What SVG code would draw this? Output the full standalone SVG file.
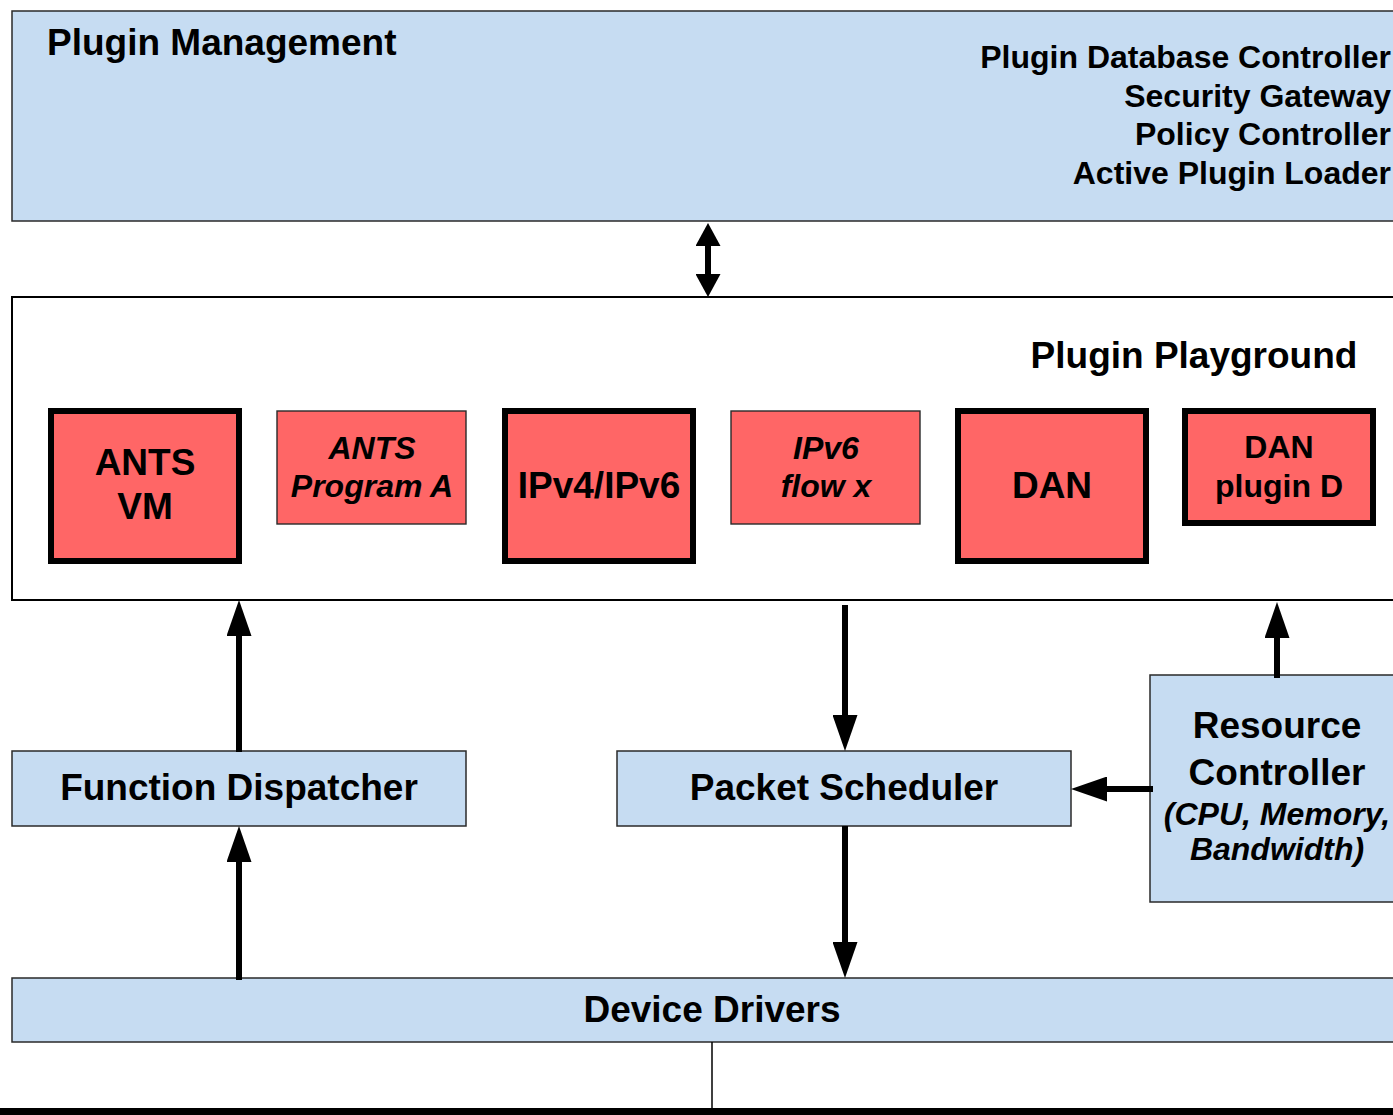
<svg xmlns="http://www.w3.org/2000/svg" width="1393" height="1115" viewBox="0 0 1393 1115">
  <style>
    text { font-family: "Liberation Sans", Arial, sans-serif; font-weight: bold; fill: #000; }
    .big { font-size: 37px; }
    .mid { font-size: 32px; }
    .it { font-style: italic; }
    .c { text-anchor: middle; }
    .r { text-anchor: end; }
    .blue { fill: #C6DCF2; stroke: #2a2a2a; stroke-width: 1.5; }
    .red { fill: #FF6666; stroke: #2a2a2a; stroke-width: 1.4; }
    .redThick { fill: #FF6666; stroke: #000; stroke-width: 6; }
    .shaft { stroke: #000; stroke-width: 6; fill: none; }
  </style>
  <defs>
    <marker id="head" viewBox="0 0 36 25" markerWidth="36" markerHeight="25" refX="6" refY="12.5" orient="auto" markerUnits="userSpaceOnUse">
      <path d="M0,0 L36,12.5 L0,25 Z" fill="#000"/>
    </marker>
    <marker id="headShort" viewBox="0 0 23 25" markerWidth="23" markerHeight="25" refX="6" refY="12.5" orient="auto-start-reverse" markerUnits="userSpaceOnUse">
      <path d="M0,0 L23,12.5 L0,25 Z" fill="#000"/>
    </marker>
  </defs>

  <rect x="0" y="0" width="1393" height="1115" fill="#fff"/>

  <g id="plugin-management">
    <rect class="blue" x="12" y="11" width="1400" height="210"/>
    <text class="big" x="47" y="55">Plugin Management</text>
    <text class="mid r" x="1391" y="68">Plugin Database Controller</text>
    <text class="mid r" x="1391" y="107">Security Gateway</text>
    <text class="mid r" x="1391" y="145">Policy Controller</text>
    <text class="mid r" x="1391" y="184">Active Plugin Loader</text>
  </g>

  <g id="plugin-playground">
    <rect x="12" y="297" width="1400" height="303" fill="#fff" stroke="#000" stroke-width="2"/>
    <text class="big c" x="1194" y="368">Plugin Playground</text>
  </g>

  <g id="ants-vm">
    <rect class="redThick" x="51" y="411" width="188" height="150"/>
    <text class="big c" x="145" y="475">ANTS</text>
    <text class="big c" x="145" y="519">VM</text>
  </g>

  <g id="ants-program-a">
    <rect class="red" x="277" y="411" width="189" height="113"/>
    <text class="mid c it" x="372" y="459">ANTS</text>
    <text class="mid c it" x="372" y="497">Program A</text>
  </g>

  <g id="ipv4-ipv6">
    <rect class="redThick" x="505" y="411" width="188" height="150"/>
    <text class="big c" x="599" y="498">IPv4/IPv6</text>
  </g>

  <g id="ipv6-flow-x">
    <rect class="red" x="731" y="411" width="189" height="113"/>
    <text class="mid c it" x="826" y="459">IPv6</text>
    <text class="mid c it" x="826" y="497">flow x</text>
  </g>

  <g id="dan">
    <rect class="redThick" x="958" y="411" width="188" height="150"/>
    <text class="big c" x="1052" y="498">DAN</text>
  </g>

  <g id="dan-plugin-d">
    <rect class="redThick" x="1185" y="411" width="188" height="112"/>
    <text class="mid c" x="1279" y="458">DAN</text>
    <text class="mid c" x="1279" y="497">plugin D</text>
  </g>

  <g id="function-dispatcher">
    <rect class="blue" x="12" y="751" width="454" height="75"/>
    <text class="big c" x="239" y="800">Function Dispatcher</text>
  </g>

  <g id="packet-scheduler">
    <rect class="blue" x="617" y="751" width="454" height="75"/>
    <text class="big c" x="844" y="800">Packet Scheduler</text>
  </g>

  <g id="resource-controller">
    <rect class="blue" x="1150" y="675" width="260" height="227"/>
    <text class="big c" x="1277" y="738">Resource</text>
    <text class="big c" x="1277" y="785">Controller</text>
    <text class="mid c it" x="1277" y="825">(CPU, Memory,</text>
    <text class="mid c it" x="1277" y="860">Bandwidth)</text>
  </g>

  <g id="device-drivers">
    <rect class="blue" x="12" y="978" width="1400" height="64"/>
    <text class="big c" x="712" y="1022">Device Drivers</text>
  </g>

  <g id="network-bus">
    <rect x="0" y="1108" width="1393" height="10" fill="#000"/>
  </g>

  <g id="connectors">
    <!-- management <-> playground -->
    <line class="shaft" x1="708" y1="240" x2="708" y2="280" marker-start="url(#headShort)" marker-end="url(#headShort)"/>
    <!-- function dispatcher -> playground -->
    <line class="shaft" x1="239" y1="752" x2="239" y2="630" marker-end="url(#head)"/>
    <!-- device drivers -> function dispatcher -->
    <line class="shaft" x1="239" y1="980" x2="239" y2="856" marker-end="url(#head)"/>
    <!-- playground -> packet scheduler -->
    <line class="shaft" x1="845" y1="605" x2="845" y2="721" marker-end="url(#head)"/>
    <!-- packet scheduler -> device drivers -->
    <line class="shaft" x1="845" y1="826" x2="845" y2="948" marker-end="url(#head)"/>
    <!-- resource controller -> packet scheduler -->
    <line class="shaft" x1="1153" y1="789" x2="1101" y2="789" marker-end="url(#head)"/>
    <!-- resource controller -> playground -->
    <line class="shaft" x1="1277" y1="678" x2="1277" y2="632" marker-end="url(#head)"/>
    <!-- device drivers -> bus -->
    <line x1="712" y1="1042" x2="712" y2="1108" stroke="#000" stroke-width="1.5"/>
  </g>
</svg>
